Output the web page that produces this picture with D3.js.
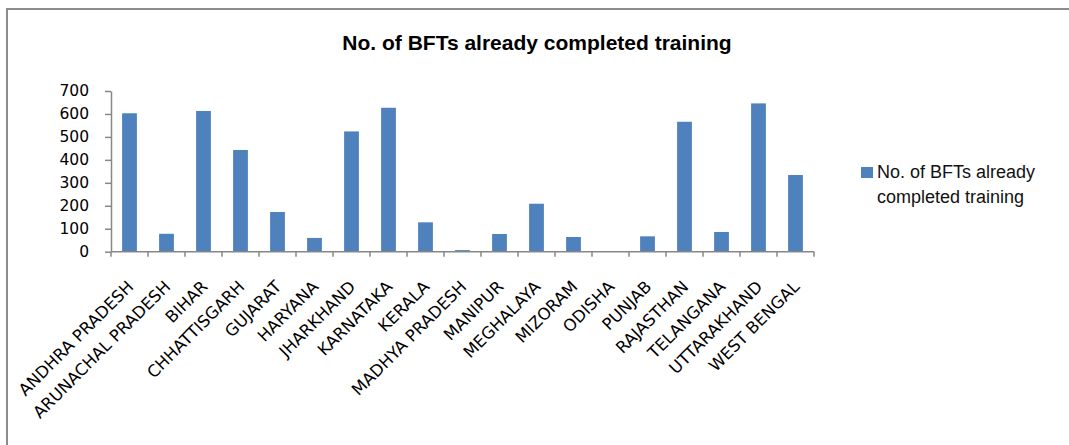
<!DOCTYPE html>
<html>
<head>
<meta charset="utf-8">
<script src="https://cdn.jsdelivr.net/npm/d3@7"></script>
<style>
  html, body { margin: 0; padding: 0; background: #fff; }
  svg { display: block; }
</style>
</head>
<body>
<svg id="chart" width="1069" height="445"></svg>
<script>
const categories = ["ANDHRA PRADESH","ARUNACHAL PRADESH","BIHAR","CHHATTISGARH","GUJARAT","HARYANA","JHARKHAND","KARNATAKA","KERALA","MADHYA PRADESH","MANIPUR","MEGHALAYA","MIZORAM","ODISHA","PUNJAB","RAJASTHAN","TELANGANA","UTTARAKHAND","WEST BENGAL"];
const values = [603, 78, 613, 443, 173, 60, 524, 627, 128, 7, 77, 209, 64, 0, 67, 566, 86, 646, 334];
const yTicks = [0, 100, 200, 300, 400, 500, 600, 700];
const seriesName = "No. of BFTs already completed training";
const titleText = "No. of BFTs already completed training";
const legendLines = ["No. of BFTs already", "completed training"];

const svg = d3.select("#chart");
const barColor = "#4F81BD";
const axisColor = "#878787";

// outer border
svg.append("rect").attr("x", 7).attr("y", 9).attr("width", 1080).attr("height", 460)
  .attr("fill", "none").attr("stroke", "#8c8c8c").attr("stroke-width", 2);

// title
svg.append("text").attr("x", 537).attr("y", 50).attr("text-anchor", "middle")
  .attr("font-family", "Liberation Sans, Arial, sans-serif").attr("font-weight", "bold")
  .attr("font-size", 21).attr("fill", "#000").text(titleText);

const x = d3.scaleBand().domain(categories).range([111, 814]).paddingInner(0.6).paddingOuter(0.3);
const y = d3.scaleLinear().domain([0, 700]).range([251.7, 91]);

// bars
svg.append("g").selectAll("rect").data(categories).join("rect")
  .attr("x", d => x(d))
  .attr("width", x.bandwidth())
  .attr("y", (d, i) => y(values[i]))
  .attr("height", (d, i) => y(0) - y(values[i]))
  .attr("fill", barColor);

// y axis
const yAxis = svg.append("g").attr("transform", "translate(111,0)")
  .call(d3.axisLeft(y).tickValues(yTicks).tickSize(6).tickPadding(16).tickSizeOuter(0));
yAxis.select(".domain").attr("stroke", axisColor).attr("stroke-width", 1.5);
yAxis.selectAll(".tick line").attr("stroke", axisColor).attr("stroke-width", 1.5);
yAxis.selectAll(".tick text").attr("font-family", "DejaVu Sans, Verdana, sans-serif")
  .attr("font-size", 15.5).attr("fill", "#000");

// x axis: line and ticks at band boundaries
const xg = svg.append("g");
const step = x.step();
const x0 = x.range()[0];
const boundaries = d3.range(categories.length + 1).map(i => x0 + i * step);
xg.append("line").attr("x1", x0).attr("x2", x.range()[1]).attr("y1", y(0)).attr("y2", y(0))
  .attr("stroke", axisColor).attr("stroke-width", 1.5);
xg.selectAll("line.tk").data(boundaries).join("line").attr("class", "tk")
  .attr("x1", d => d).attr("x2", d => d).attr("y1", y(0)).attr("y2", y(0) + 5)
  .attr("stroke", axisColor).attr("stroke-width", 1.5);

// category labels
xg.selectAll("text.cat").data(categories).join("text").attr("class", "cat")
  .attr("transform", d => `translate(${x(d) + x.bandwidth() / 2 + 5},${y(0) + 36}) rotate(-45)`)
  .attr("text-anchor", "end")
  .attr("font-family", "DejaVu Sans, Verdana, sans-serif")
  .attr("font-size", 16.5).attr("fill", "#000").text(d => d);

// legend
const lg = svg.append("g");
lg.append("rect").attr("x", 861).attr("y", 167).attr("width", 12).attr("height", 11).attr("fill", barColor);
lg.selectAll("text").data(legendLines).join("text")
  .attr("x", 877).attr("y", (d, i) => 178 + i * 25)
  .attr("font-family", "Liberation Sans, Arial, sans-serif").attr("font-size", 18).attr("fill", "#111")
  .text(d => d);
</script>
</body>
</html>
